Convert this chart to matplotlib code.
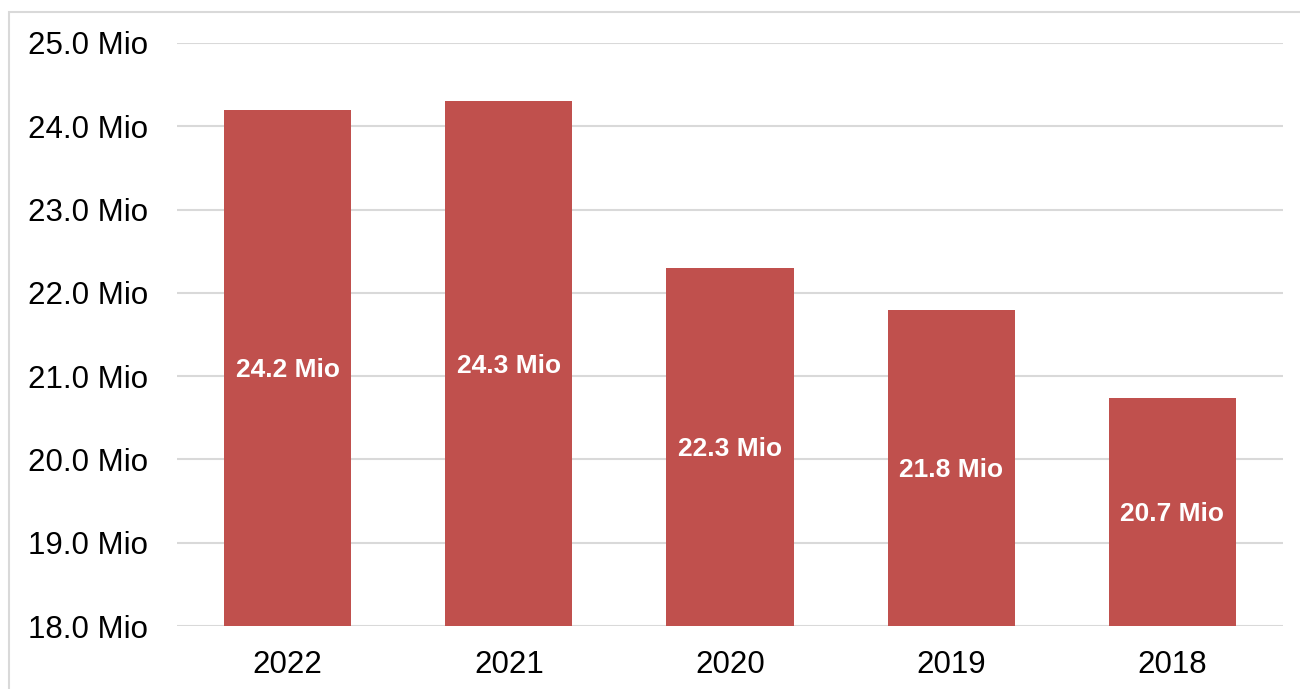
import matplotlib.pyplot as plt
from matplotlib.patches import Rectangle

# values (million)
years = ['2022', '2021', '2020', '2019', '2018']
values = [24.2, 24.3, 22.3, 21.8, 20.74]
ticks = [18, 19, 20, 21, 22, 23, 24, 25]

plt.rcParams['font.family'] = ['Liberation Sans', 'DejaVu Sans']

fig = plt.figure(figsize=(13, 6.89), dpi=100)
ax = fig.add_axes([177/1300, 1 - 626/689, (1283 - 177)/1300, (626 - 43)/689])

x = range(len(years))
bars = ax.bar(x, values, width=0.575, bottom=0, color='#C0504D', zorder=3)
ax.set_ylim(18, 25)
ax.set_xlim(-0.5, len(years) - 0.5)

for xi, v in zip(x, values):
    ax.text(xi, (18 + v) / 2, '%.1f Mio' % v, ha='center', va='center_baseline',
            color='white', fontsize=19, fontweight='bold', zorder=4)

ax.set_yticks(ticks)
ax.set_yticklabels(['%.1f Mio' % t for t in ticks])
ax.set_xticks(list(x))
ax.set_xticklabels(years)
ax.tick_params(axis='y', length=0, pad=21, labelsize=22.5)
ax.tick_params(axis='x', length=0, pad=17, labelsize=22.5)
ax.grid(axis='y', color='#d9d9d9', linewidth=1.5, zorder=0)
for s in ax.spines.values():
    s.set_visible(False)

# light frame around the chart area (only top and left visible)
fig.patches.append(Rectangle((9/1300, -0.05), 1.1, 1 - 12/689 + 0.05,
                             transform=fig.transFigure, fill=False,
                             edgecolor='#d9d9d9', linewidth=1.5))

plt.savefig('out.png', dpi=100)
